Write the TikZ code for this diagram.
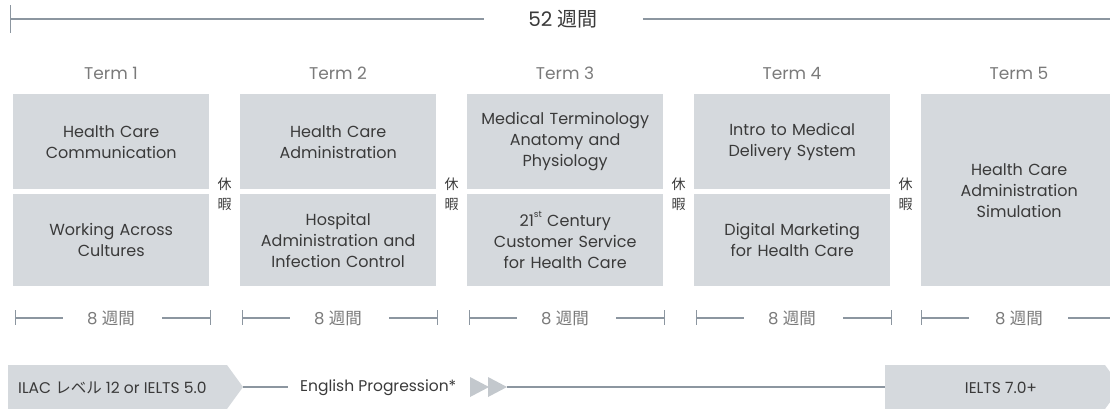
\documentclass[tikz,border=0pt]{standalone}
\usepackage{fontspec}
\setmainfont{Poppins}
\newfontfamily\jp{Noto Sans CJK JP}
\definecolor{boxc}{HTML}{D5D9DD}
\definecolor{txt}{HTML}{3A3A3A}
\definecolor{termc}{HTML}{7A7A7A}
\definecolor{linec}{HTML}{8C96A0}
\definecolor{tric}{HTML}{C3C8CD}
\newcommand{\supst}[1]{\raisebox{0.55em}{\fontsize{9}{9}\selectfont #1}}
\begin{document}
\begin{tikzpicture}[x=1pt,y=-1pt,
  course/.style={fill=boxc, inner sep=0pt, anchor=north west, align=center, text=txt,
    minimum width=196pt, text width=190pt, font=\fontsize{16}{21}\selectfont},
  termlbl/.style={text=termc, font=\fontsize{17}{20}\selectfont, inner sep=0pt},
  brk/.style={text=txt, font=\jp\fontsize{14}{16}\selectfont, inner sep=0pt},
  wk/.style={text=termc, font=\fontsize{16.5}{20}\selectfont, inner sep=0pt},
  bar/.style={draw=linec, line width=1.1pt},
  tick/.style={draw=linec, line width=0.8pt},
  bottomtxt/.style={text=txt, font=\fontsize{15.5}{18}\selectfont, inner sep=0pt},
  conn/.style={draw=linec, line width=1.1pt}]
\useasboundingbox (0,0) rectangle (1110,408);
\clip (0,0) rectangle (1110,408);

% top span
\node[text=txt, font=\fontsize{20}{24}\selectfont, inner sep=0pt] (title) at (563,19) {52 {\jp 週間}};
\coordinate (tl) at (10,19);
\coordinate (tr) at (1110,19);
\draw[tick] (10,5) -- (10,33);
\draw[linec, line width=1.6pt] (tl) -- ([xshift=-44pt]title.west);
\draw[linec, line width=1.6pt] ([xshift=45pt]title.east) -- (tr);

% terms
\foreach \i/\xs in {1/13,2/240,3/467,4/694,5/921}{
  \node[termlbl] (term\i) at (\xs+98,73) {Term \i};
}

% courses
\node[course, minimum height=95pt] (c1a) at (13,94) {Health Care\\Communication};
\node[course, minimum height=92pt] (c1b) at (13,194) {Working Across\\Cultures};
\node[course, minimum height=95pt] (c2a) at (240,94) {Health Care\\Administration};
\node[course, minimum height=92pt] (c2b) at (240,194) {Hospital\\Administration and\\Infection Control};
\node[course, minimum height=95pt] (c3a) at (467,94) {Medical Terminology\\Anatomy and\\Physiology};
\node[course, minimum height=92pt] (c3b) at (467,194) {21\supst{st} Century\\Customer Service\\for Health Care};
\node[course, minimum height=95pt] (c4a) at (694,94) {Intro to Medical\\Delivery System};
\node[course, minimum height=92pt] (c4b) at (694,194) {Digital Marketing\\for Health Care};
\node[course, minimum height=192pt] (c5) at (921,94) {Health Care\\Administration\\Simulation};

% breaks
\foreach \k/\bx in {1/224.5,2/451.5,3/678.5,4/905.5}{
  \node[brk] (brka\k) at (\bx,184) {休};
  \node[brk] (brkb\k) at (\bx,204) {暇};
}

% week bars
\foreach \i/\xs in {1/13,2/240,3/467,4/694}{
  \node[wk] (wk\i) at (\xs+98,318) {8 {\jp 週間}};
  \coordinate (wl\i) at (\xs+2,318);
  \coordinate (wr\i) at (\xs+197,318);
  \draw[tick] (\xs+2,310) -- (\xs+2,325);
  \draw[tick] (\xs+197,310) -- (\xs+197,325);
  \draw[bar] (wl\i) -- ([xshift=48pt]wl\i);
  \draw[bar] ([xshift=-48pt]wr\i) -- (wr\i);
}
\node[wk] (wk5) at (1019,318) {8 {\jp 週間}};
\coordinate (wl5) at (921,318);
\draw[tick] (921,310) -- (921,325);
\draw[bar] (wl5) -- ([xshift=48pt]wl5);
\draw[bar] (1068,318) -- (1110,318);

% bottom progression
\fill[boxc] (8,365) -- (227,365) -- (243,387) -- (227,409) -- (8,409) -- cycle;
\coordinate (ilacTip) at (243,387);
\node[bottomtxt, anchor=west] (ilac) at (18,388) {ILAC {\jp レベル} 12 or IELTS 5.0};
\node[bottomtxt, anchor=west, inner xsep=12pt] (eng) at (288,388) {English Progression*};
\fill[tric] (470,377) -- (489,387) -- (470,397) -- cycle;
\fill[tric] (488,377) -- (507,387) -- (488,397) -- cycle;
\coordinate (triTip) at (507,387);
\fill[boxc] (885,365) -- (1105,365) -- (1121,387) -- (1105,409) -- (885,409) -- cycle;
\coordinate (ieltsIn) at (885,387);
\node[bottomtxt] (ielts) at (1001,388) {IELTS 7.0+};
\draw[conn] (ilacTip) -- (eng.west |- ilacTip);
\draw[conn] (triTip) -- (ieltsIn);
\end{tikzpicture}
\end{document}
